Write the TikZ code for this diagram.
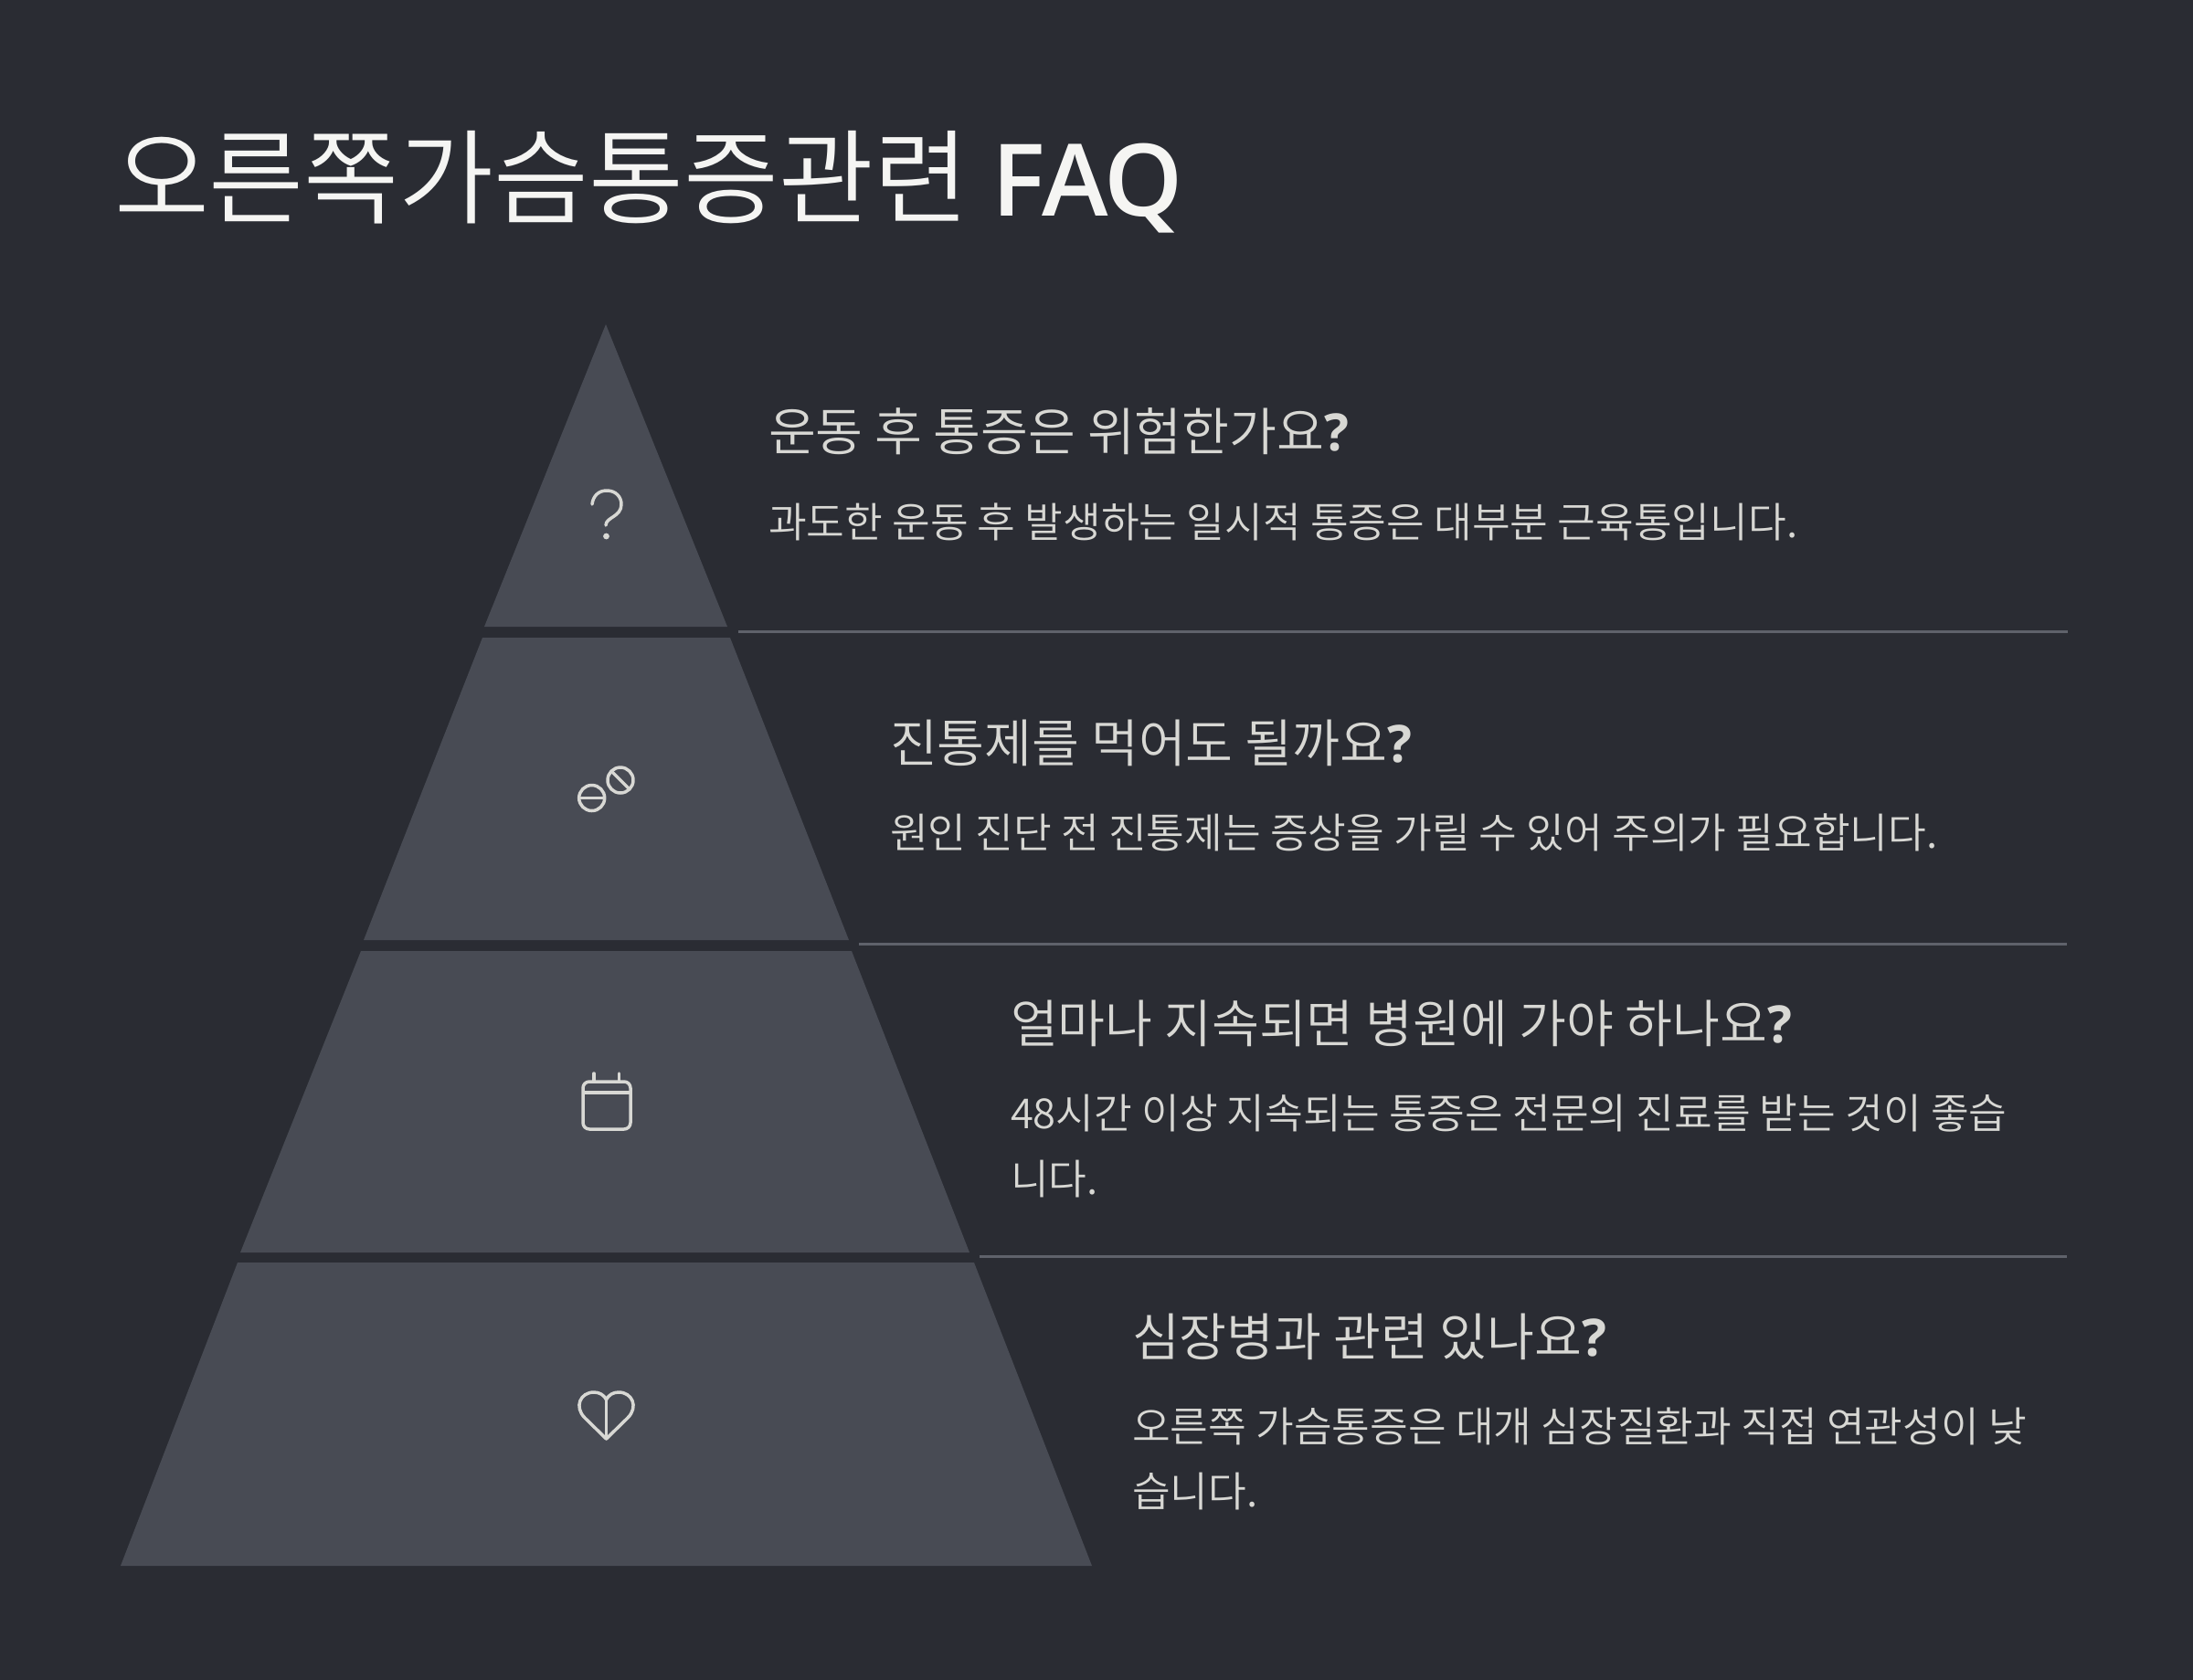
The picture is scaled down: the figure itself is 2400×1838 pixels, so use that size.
\documentclass[tikz,border=0pt]{standalone}
\usepackage{fontspec}
\setmainfont{Noto Sans CJK KR}[UprightFont={* DemiLight},BoldFont={* Bold}]
\newfontfamily\latinfont{Open Sans}[UprightFont={* Semibold},LetterSpace=-1.5]
\newfontfamily\qfont{Open Sans}[UprightFont={* Bold}]
\definecolor{bgc}{HTML}{2A2C33}
\definecolor{bandc}{HTML}{484B54}
\definecolor{titlec}{HTML}{F5F5F3}
\definecolor{txtc}{HTML}{D8D8D4}
\definecolor{rulec}{HTML}{5F626B}
\definecolor{iconc}{HTML}{D8D8D4}
\tikzset{x=0.5pt,y=-0.5pt,
 band/.style={fill=bandc,draw=none},
 sep/.style={draw=rulec,line width=1.5pt},
 icon/.style={draw=iconc,line width=1.75pt,line cap=round,line join=round},
 titletext/.style={anchor=base west,inner sep=0,outer sep=0,text=titlec,font=\fontsize{56.5}{60}\selectfont},
 head/.style={anchor=base west,inner sep=0,outer sep=0,text=txtc,font=\fontsize{28.2}{32}\selectfont},
 bodytext/.style={anchor=base west,inner sep=0,outer sep=0,text=txtc,font=\fontsize{22.68}{26}\selectfont}}
\begin{document}
\begin{tikzpicture}
\useasboundingbox (0,0) rectangle (2400,1838);
\fill[bgc] (-10,-10) rectangle (2410,1848);
\fill[band] (663,355) -- (796,686) -- (530,686) -- cycle;
\fill[band] (528,698) -- (799,698) -- (929,1029) -- (398,1029) -- cycle;
\fill[band] (395,1041) -- (932,1041) -- (1061,1371) -- (263,1371) -- cycle;
\fill[band] (260,1382) -- (1066,1382) -- (1195,1714) -- (132,1714) -- cycle;
\coordinate (r1a) at (808,691); \coordinate (r1b) at (2263,691);
\coordinate (r2a) at (940,1033); \coordinate (r2b) at (2262,1033);
\coordinate (r3a) at (1072,1375); \coordinate (r3b) at (2262,1375);
\draw[sep] (r1a) -- (r1b);
\draw[sep] (r2a) -- (r2b);
\draw[sep] (r3a) -- (r3b);
\node[titletext] (title) at (125,236) {오른쪽가슴통증관련 {\latinfont\fontsize{54.8}{60}\selectfont FAQ}};
\node[head] (h1) at (841,493) {운동 후 통증은 위험한가요{\qfont ?}};
\node[bodytext] (b1) at (841,588) {과도한 운동 후 발생하는 일시적 통증은 대부분 근육통입니다.};
\node[head] (h2) at (974,834) {진통제를 먹어도 될까요{\qfont ?}};
\node[bodytext] (b2) at (974,928) {원인 진단 전 진통제는 증상을 가릴 수 있어 주의가 필요합니다.};
\node[head] (h3) at (1106,1141) {얼마나 지속되면 병원에 가야 하나요{\qfont ?}};
\node[bodytext] (b3a) at (1106,1235) {48시간 이상 지속되는 통증은 전문의 진료를 받는 것이 좋습};
\node[bodytext] (b3b) at (1106,1307) {니다.};
\node[head] (h4) at (1239,1484) {심장병과 관련 있나요{\qfont ?}};
\node[bodytext] (b4a) at (1239,1578) {오른쪽 가슴통증은 대개 심장질환과 직접 연관성이 낮};
\node[bodytext] (b4b) at (1239,1649) {습니다.};
% question icon
\draw[icon] (648,552) .. controls (649,543) and (655,537) .. (664,537) .. controls (674,537) and (680,544) .. (680,552) .. controls (680,566) and (663,566) .. (663,575);
\fill[iconc] (663.5,587) circle[radius=1.7pt];
% pill icon
\draw[icon] (647.7,873.5) circle[radius=7pt];
\draw[icon,line cap=butt] (633.7,873.5) -- (661.7,873.5);
\draw[icon] (679,854) circle[radius=7pt];
\draw[icon,line cap=butt] (669,844) -- (689,864);
% calendar icon
\draw[icon,rounded corners=3.5pt] (638,1184) rectangle (690,1236);
\draw[icon,line cap=butt] (638,1196) -- (690,1196);
\draw[icon] (650,1175) -- (650,1184);
\draw[icon] (677.5,1175) -- (677.5,1184);
% heart icon
\draw[icon] (663.5,1575) -- (640,1552) .. controls (628,1540) and (635,1524) .. (650,1524) .. controls (656,1524) and (661,1527) .. (663.5,1532) .. controls (666,1527) and (671,1524) .. (677,1524) .. controls (692,1524) and (699,1540) .. (687,1552) -- cycle;
\draw[icon] (663.5,1532) -- (663.5,1575);
\end{tikzpicture}
\end{document}
